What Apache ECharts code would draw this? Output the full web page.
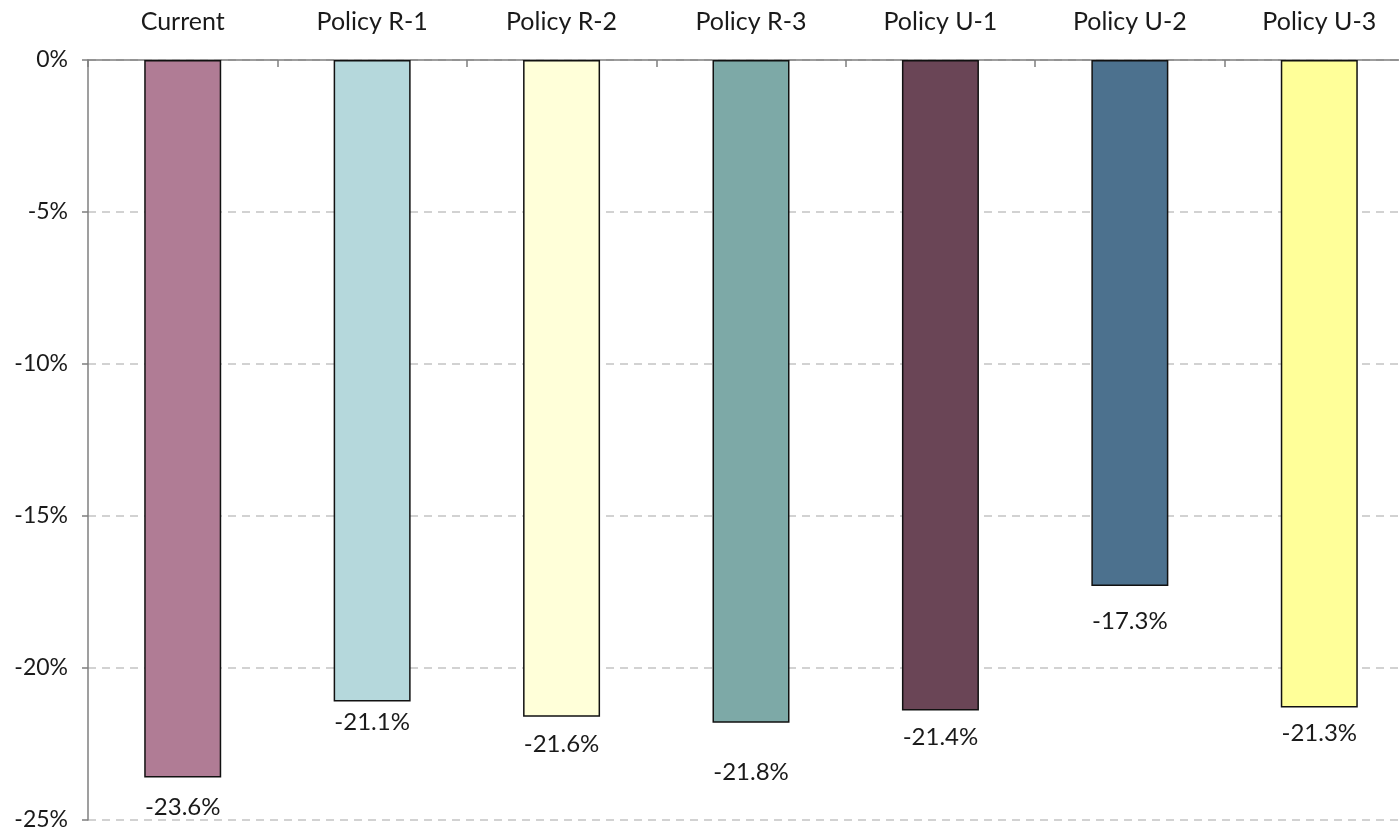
<!DOCTYPE html>
<html>
<head>
<meta charset="utf-8">
<title>Policy scenarios</title>
<script src="https://cdn.jsdelivr.net/npm/echarts@6/dist/echarts.min.js"></script>
<style>
  html, body { margin: 0; padding: 0; background: #ffffff; }
  #chart { width: 1399px; height: 833px; }
</style>
</head>
<body>
<div id="chart"></div>
<script>
// Scenario names along the top axis
const categories = ['Current', 'Policy R-1', 'Policy R-2', 'Policy R-3', 'Policy U-1', 'Policy U-2', 'Policy U-3'];
// Change per scenario, in percent
const values = [-23.6, -21.1, -21.6, -21.8, -21.4, -17.3, -21.3];
// Fill colour of each bar
const barColors = ['#B07C95', '#B5D8DC', '#FFFFD9', '#7DA9A7', '#6A4556', '#4C718E', '#FFFF99'];
// Value axis range and step
const yMin = -25, yMax = 0, yStep = 5;

// Gap between each bar's end and its value label (px)
const labelGap = [18, 9, 16, 38, 15, 23, 14];

const FONT = 'Lato, "Open Sans", sans-serif';

const chart = echarts.init(document.getElementById('chart'), null, { renderer: 'canvas' });

const seriesData = values.map((v, i) => ({
  value: v,
  itemStyle: { color: barColors[i] },
  label: { distance: labelGap[i] }
}));

chart.setOption({
  animation: false,
  backgroundColor: '#ffffff',
  // the last band runs past the right edge of the canvas
  grid: { left: 88, top: 60, width: 1326, height: 760, containLabel: false, outerBoundsMode: 'none' },
  xAxis: {
    type: 'category',
    position: 'top',
    data: categories,
    axisLine: { show: true, onZero: false, lineStyle: { color: '#7f7f7f', width: 1.5 } },
    axisTick: { show: true, inside: true, length: 7, alignWithLabel: false, lineStyle: { color: '#7f7f7f', width: 1.5 } },
    axisLabel: { color: '#1a1a1a', fontFamily: FONT, fontSize: 25, margin: 26 },
    splitLine: { show: false }
  },
  yAxis: {
    type: 'value',
    min: yMin,
    max: yMax,
    interval: yStep,
    axisLine: { show: true, lineStyle: { color: '#7f7f7f', width: 1.5 } },
    axisTick: { show: true, inside: false, length: 6, lineStyle: { color: '#7f7f7f', width: 1.5 } },
    axisLabel: {
      color: '#1a1a1a', fontFamily: FONT, fontSize: 23, margin: 20,
      formatter: v => v + '%'
    },
    splitLine: {
      show: true,
      lineStyle: { color: '#c4c4c4', width: 1.5, type: [8, 6] }
    }
  },
  series: [{
    type: 'bar',
    data: seriesData,
    barWidth: 77,
    itemStyle: { borderColor: '#111111', borderWidth: 1.5 },
    label: {
      show: true,
      position: 'bottom',
      color: '#1a1a1a',
      fontFamily: FONT,
      fontSize: 24,
      formatter: p => p.value.toFixed(1) + '%'
    }
  }]
});
</script>
</body>
</html>
